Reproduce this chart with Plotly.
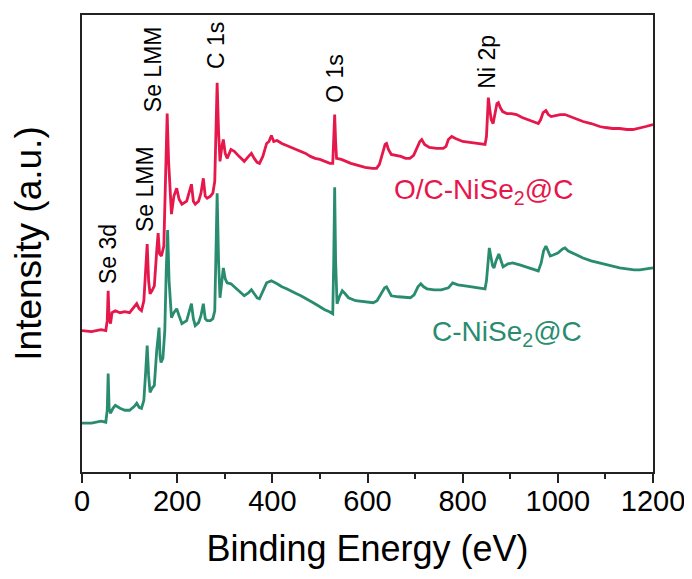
import plotly.graph_objects as go

# Binding energy (eV) and intensity (a.u.)
oc_energy = [0, 20, 40, 50, 53, 55, 57, 60, 63, 70, 80, 90, 100, 110, 115, 120, 125, 130, 134, 137,
             140, 143, 147, 152, 157, 160, 163, 167, 172, 176, 179, 182, 186, 188, 193, 199, 204, 210,
             220, 226, 230, 234, 238, 245, 250, 255, 259, 263, 270, 275, 279, 282, 284, 287, 290, 294,
             297, 301, 305, 313, 320, 330, 341, 350, 356, 362, 368, 373, 380, 388, 393, 398, 403, 410,
             420, 430, 440, 451, 460, 470, 480, 490, 500, 510, 521, 527, 529, 531, 533, 535, 545, 555,
             565, 580, 595, 610, 619, 625, 632, 637, 640, 644, 650, 660, 670, 680, 689, 697, 705, 710,
             714, 720, 730, 745, 759, 765, 770, 777, 785, 800, 815, 830, 847, 850, 852, 854, 857, 860,
             864, 868, 872, 875, 879, 884, 893, 903, 913, 925, 940, 950, 959, 964, 969, 975, 980, 986,
             995, 1005, 1015, 1025, 1038, 1053, 1070, 1088, 1100, 1115, 1130, 1145, 1158, 1170, 1185, 1200]
oc_intensity = [142, 141, 143, 142, 152, 182, 154, 149, 160, 162, 160, 161, 160, 166, 169, 164, 162, 172, 202, 229,
                192, 179, 182, 187, 222, 240, 219, 217, 227, 302, 360, 312, 267, 259, 277, 285, 274, 269,
                272, 282, 289, 272, 269, 272, 280, 295, 277, 275, 277, 280, 292, 352, 391, 342, 312, 327,
                334, 320, 315, 324, 322, 317, 312, 317, 320, 315, 311, 310, 317, 330, 332, 338, 332, 333,
                330, 328, 326, 324, 322, 320, 317, 315, 314, 312, 310, 310, 332, 359, 332, 315, 314, 312,
                310, 308, 306, 305, 305, 309, 322, 329, 330, 324, 319, 318, 317, 315, 315, 318, 327, 332,
                334, 329, 326, 325, 325, 327, 334, 337, 335, 332, 331, 330, 329, 337, 362, 376, 364, 354,
                350, 360, 370, 371, 366, 362, 360, 360, 359, 356, 353, 351, 350, 354, 361, 363, 359, 357,
                358, 359, 359, 357, 355, 352, 350, 347, 346, 345, 345, 344, 344, 345, 347, 349]

c_energy = [0, 20, 40, 50, 53, 55, 57, 60, 65, 70, 80, 90, 100, 110, 115, 120, 125, 130, 134, 137,
            140, 143, 147, 152, 157, 162, 164, 166, 170, 174, 177, 180, 183, 186, 188, 193, 199, 204,
            210, 220, 226, 230, 234, 238, 245, 250, 255, 259, 263, 270, 275, 279, 282, 284, 287, 290,
            294, 297, 301, 305, 313, 320, 330, 341, 350, 356, 362, 368, 373, 380, 388, 393, 398, 410,
            420, 430, 440, 451, 460, 470, 486, 500, 510, 520, 527, 529, 531, 533, 536, 541, 547, 553,
            560, 575, 590, 605, 612, 620, 630, 636, 640, 644, 650, 665, 680, 690, 698, 706, 712, 718,
            725, 740, 755, 770, 779, 790, 805, 820, 835, 847, 850, 853, 856, 859, 863, 866, 870, 876,
            880, 885, 895, 905, 920, 940, 955, 959, 965, 970, 975, 979, 984, 990, 1000, 1010, 1015,
            1022, 1035, 1053, 1070, 1088, 1105, 1120, 1130, 1145, 1160, 1172, 1185, 1200]
c_intensity = [49, 49, 51, 50, 62, 99, 64, 59, 64, 67, 64, 62, 62, 66, 69, 65, 64, 72, 102, 127,
               97, 80, 84, 87, 122, 145, 117, 110, 114, 142, 202, 243, 192, 162, 155, 160, 164, 157,
               149, 152, 162, 169, 154, 147, 150, 157, 169, 154, 152, 152, 154, 162, 232, 280, 212, 175,
               192, 205, 194, 190, 189, 186, 182, 177, 180, 183, 179, 175, 174, 182, 190, 191, 192, 189,
               186, 184, 182, 179, 177, 174, 170, 166, 163, 161, 159, 212, 286, 212, 169, 176, 182, 179,
               175, 172, 171, 170, 170, 172, 180, 185, 186, 182, 177, 176, 175, 175, 178, 186, 189, 186,
               184, 183, 183, 185, 190, 188, 187, 186, 185, 184, 192, 212, 225, 217, 207, 205, 212, 219,
               214, 206, 209, 210, 208, 205, 202, 202, 210, 222, 227, 222, 217, 218, 220, 224, 225,
               222, 219, 215, 212, 210, 208, 206, 205, 204, 203, 203, 204, 205]

peak_labels = ["Se 3d", "Se LMM", "Se LMM", "C 1s", "O 1s", "Ni 2p"]
peak_label_energy = [55, 132, 148, 282, 532, 851]
peak_label_height = [219, 284, 405, 428, 395, 412]

series_names = ["O/C-NiSe<sub>2</sub>@C", "C-NiSe<sub>2</sub>@C"]
series_label_energy = [843, 893]
series_label_height = [282, 139]

x_ticks = [0, 200, 400, 600, 800, 1000, 1200]

RED = "#E5174B"
GREEN = "#2A8C6F"
FONT = "Arial, Liberation Sans, Helvetica, sans-serif"

fig = go.Figure()
fig.add_trace(go.Scatter(x=c_energy, y=c_intensity, mode="lines",
                         line=dict(color=GREEN, width=2.8), name="C-NiSe2@C"))
fig.add_trace(go.Scatter(x=oc_energy, y=oc_intensity, mode="lines",
                         line=dict(color=RED, width=2.8), name="O/C-NiSe2@C"))

for t, xe, yh in zip(peak_labels, peak_label_energy, peak_label_height):
    fig.add_annotation(x=xe, y=yh, text=t, textangle=-90, showarrow=False,
                       xanchor="center", yanchor="middle",
                       font=dict(family=FONT, size=23, color="black"))

for t, xe, yh, c in zip(series_names, series_label_energy, series_label_height, [RED, GREEN]):
    fig.add_annotation(x=xe, y=yh, text=t, showarrow=False,
                       xanchor="center", yanchor="middle",
                       font=dict(family=FONT, size=28, color=c))

# The page body adds an 8 px offset, so the figure is sized to fit the window.
fig.update_layout(
    width=684, height=571,
    margin=dict(l=74, r=39, t=5, b=107),
    paper_bgcolor="white", plot_bgcolor="white",
    showlegend=False,
    font=dict(family=FONT, color="black"),
)
fig.update_xaxes(
    range=[0, 1200], tickvals=x_ticks, ticktext=[str(v) for v in x_ticks],
    ticks="outside", ticklen=9, tickwidth=1.5, tickcolor="#222",
    minor=dict(dtick=100, tick0=0, ticks="outside", ticklen=5, tickwidth=1.5, tickcolor="#222"),
    showline=True, linecolor="#222", linewidth=1.5, mirror=True,
    showgrid=False, zeroline=False,
    tickfont=dict(family=FONT, size=29), ticklabelstandoff=-7,
    title=dict(text="Binding Energy (eV)", font=dict(family=FONT, size=36), standoff=20),
)
fig.update_yaxes(
    range=[0, 459], showticklabels=False, ticks="",
    showline=True, linecolor="#222", linewidth=1.5, mirror=True,
    showgrid=False, zeroline=False,
    title=dict(text="Intensity (a.u.)", font=dict(family=FONT, size=37), standoff=30),
)

fig.write_html("out.html")
